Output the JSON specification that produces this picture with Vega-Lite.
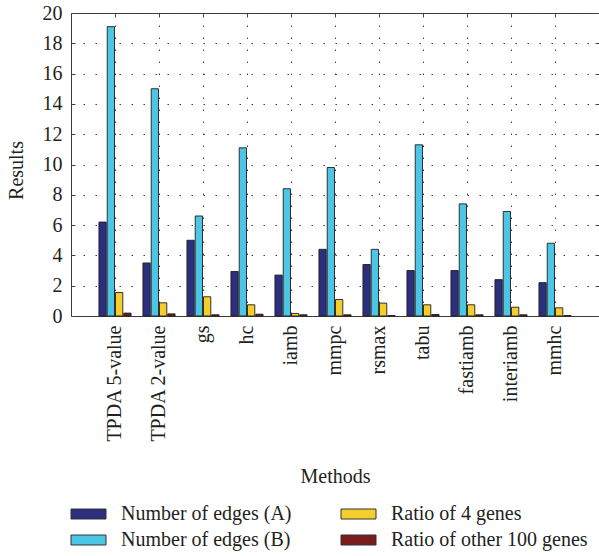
{
  "$schema": "https://vega.github.io/schema/vega-lite/v6.json",
  "autosize": {"type": "none"},
  "padding": {"left": 71, "top": 13, "right": 0, "bottom": 240},
  "width": 528,
  "height": 303,
  "background": "white",
  "config": {
    "font": "'Liberation Serif', 'DejaVu Serif', serif",
    "view": {"stroke": "#3a3a3a", "strokeWidth": 1},
    "axis": {
      "labelFont": "'Liberation Serif', 'DejaVu Serif', serif",
      "titleFont": "'Liberation Serif', 'DejaVu Serif', serif",
      "labelFontSize": 20,
      "titleFontSize": 20,
      "labelColor": "#231f20",
      "titleColor": "#231f20",
      "titleFontWeight": "normal",
      "gridColor": "#444444",
      "gridDash": [1.5, 10.5],
      "gridWidth": 1,
      "tickColor": "#444444",
      "domain": false
    },
    "legend": {
      "labelFont": "'Liberation Serif', 'DejaVu Serif', serif",
      "labelFontSize": 20,
      "labelColor": "#231f20"
    }
  },
  "data": {
    "values": [
      {"method": "TPDA 5-value", "series": "Number of edges (A)", "value": 6.2},
      {"method": "TPDA 5-value", "series": "Number of edges (B)", "value": 19.1},
      {"method": "TPDA 5-value", "series": "Ratio of 4 genes", "value": 1.55},
      {"method": "TPDA 5-value", "series": "Ratio of other 100 genes", "value": 0.19},
      {"method": "TPDA 2-value", "series": "Number of edges (A)", "value": 3.5},
      {"method": "TPDA 2-value", "series": "Number of edges (B)", "value": 15.0},
      {"method": "TPDA 2-value", "series": "Ratio of 4 genes", "value": 0.87},
      {"method": "TPDA 2-value", "series": "Ratio of other 100 genes", "value": 0.14},
      {"method": "gs", "series": "Number of edges (A)", "value": 5.0},
      {"method": "gs", "series": "Number of edges (B)", "value": 6.6},
      {"method": "gs", "series": "Ratio of 4 genes", "value": 1.27},
      {"method": "gs", "series": "Ratio of other 100 genes", "value": 0.08},
      {"method": "hc", "series": "Number of edges (A)", "value": 2.94},
      {"method": "hc", "series": "Number of edges (B)", "value": 11.1},
      {"method": "hc", "series": "Ratio of 4 genes", "value": 0.74},
      {"method": "hc", "series": "Ratio of other 100 genes", "value": 0.12},
      {"method": "iamb", "series": "Number of edges (A)", "value": 2.7},
      {"method": "iamb", "series": "Number of edges (B)", "value": 8.4},
      {"method": "iamb", "series": "Ratio of 4 genes", "value": 0.17},
      {"method": "iamb", "series": "Ratio of other 100 genes", "value": 0.08},
      {"method": "mmpc", "series": "Number of edges (A)", "value": 4.4},
      {"method": "mmpc", "series": "Number of edges (B)", "value": 9.8},
      {"method": "mmpc", "series": "Ratio of 4 genes", "value": 1.09},
      {"method": "mmpc", "series": "Ratio of other 100 genes", "value": 0.08},
      {"method": "rsmax", "series": "Number of edges (A)", "value": 3.4},
      {"method": "rsmax", "series": "Number of edges (B)", "value": 4.4},
      {"method": "rsmax", "series": "Ratio of 4 genes", "value": 0.85},
      {"method": "rsmax", "series": "Ratio of other 100 genes", "value": 0.03},
      {"method": "tabu", "series": "Number of edges (A)", "value": 3.0},
      {"method": "tabu", "series": "Number of edges (B)", "value": 11.3},
      {"method": "tabu", "series": "Ratio of 4 genes", "value": 0.74},
      {"method": "tabu", "series": "Ratio of other 100 genes", "value": 0.1},
      {"method": "fastiamb", "series": "Number of edges (A)", "value": 3.0},
      {"method": "fastiamb", "series": "Number of edges (B)", "value": 7.4},
      {"method": "fastiamb", "series": "Ratio of 4 genes", "value": 0.74},
      {"method": "fastiamb", "series": "Ratio of other 100 genes", "value": 0.08},
      {"method": "interiamb", "series": "Number of edges (A)", "value": 2.4},
      {"method": "interiamb", "series": "Number of edges (B)", "value": 6.9},
      {"method": "interiamb", "series": "Ratio of 4 genes", "value": 0.58},
      {"method": "interiamb", "series": "Ratio of other 100 genes", "value": 0.08},
      {"method": "mmhc", "series": "Number of edges (A)", "value": 2.2},
      {"method": "mmhc", "series": "Number of edges (B)", "value": 4.8},
      {"method": "mmhc", "series": "Ratio of 4 genes", "value": 0.54},
      {"method": "mmhc", "series": "Ratio of other 100 genes", "value": 0.03}
    ]
  },
  "encoding": {
    "x": {
      "field": "method",
      "type": "nominal",
      "sort": null,
      "scale": {"paddingInner": 0.27, "paddingOuter": 0.635}
    },
    "xOffset": {
      "field": "series",
      "type": "nominal",
      "sort": ["Number of edges (A)", "Number of edges (B)", "Ratio of 4 genes", "Ratio of other 100 genes"],
      "scale": {"paddingInner": 0.12, "paddingOuter": 0}
    },
    "y": {
      "field": "value",
      "type": "quantitative",
      "scale": {"domain": [0, 20], "nice": false, "zero": true}
    }
  },
  "layer": [
    {
      "mark": {"type": "bar", "stroke": "#1e1e1e", "strokeWidth": 0.9},
      "encoding": {
        "x": {
          "field": "method",
          "type": "nominal",
          "sort": null,
          "axis": {
            "orient": "bottom",
            "title": "Methods",
            "labelAngle": -90,
            "labelPadding": 13,
            "tickSize": -4,
            "bandPosition": 0.5,
            "grid": true,
            "labelLimit": 0,
            "titleX": 264,
            "titleY": 160,
            "titleBaseline": "middle",
            "titleAnchor": "middle"
          }
        },
        "y": {
          "field": "value",
          "type": "quantitative",
          "axis": {
            "orient": "left",
            "title": "Results",
            "values": [0, 2, 4, 6, 8, 10, 12, 14, 16, 18, 20],
            "tickSize": -4,
            "labelPadding": 13,
            "grid": true,
            "titleX": -55,
            "titleY": 157,
            "titleBaseline": "middle",
            "titleAnchor": "middle"
          }
        },
        "color": {
          "field": "series",
          "type": "nominal",
          "scale": {
            "domain": ["Number of edges (A)", "Ratio of 4 genes", "Number of edges (B)", "Ratio of other 100 genes"],
            "range": ["#2c2f7e", "#f5cd2c", "#4cc6e4", "#7b1c1c"]
          },
          "legend": {
            "title": null,
            "orient": "none",
            "legendX": 7.5,
            "legendY": 491,
            "columns": 2,
            "direction": "horizontal",
            "padding": 0,
            "labelFontSize": 20,
            "symbolType": "M-3.5,-1H3.5V1H-3.5Z",
            "symbolSize": 100,
            "symbolStrokeColor": "#333333",
            "symbolStrokeWidth": 1,
            "symbolOpacity": 1,
            "labelOffset": 22.5,
            "rowPadding": 6,
            "columnPadding": 47,
            "labelLimit": 0
          }
        }
      }
    },
    {
      "mark": {"type": "bar", "opacity": 0},
      "encoding": {
        "x": {
          "field": "method",
          "type": "nominal",
          "sort": null,
          "axis": {
            "orient": "top",
            "title": null,
            "labels": false,
            "tickSize": -4,
            "bandPosition": 0.5,
            "grid": false
          }
        },
        "y": {
          "field": "value",
          "type": "quantitative",
          "axis": {
            "orient": "right",
            "title": null,
            "labels": false,
            "values": [0, 2, 4, 6, 8, 10, 12, 14, 16, 18, 20],
            "tickSize": -4,
            "grid": false
          }
        }
      }
    }
  ],
  "resolve": {"axis": {"x": "independent", "y": "independent"}}
}
